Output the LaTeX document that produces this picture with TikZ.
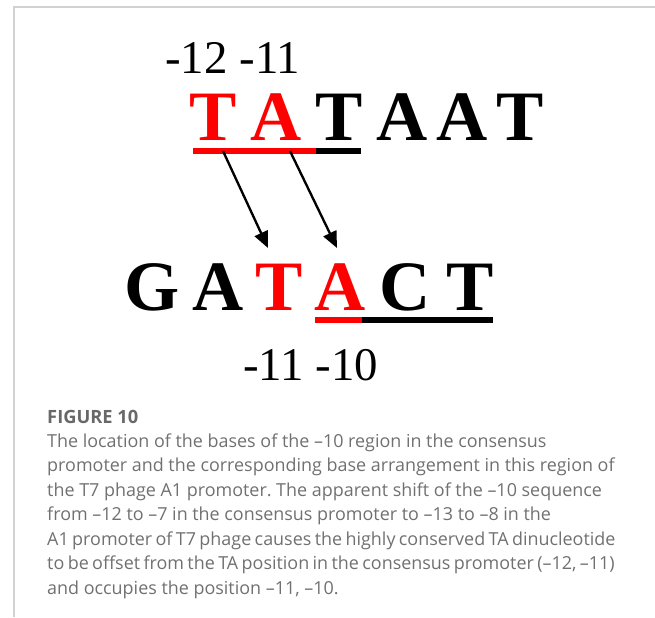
\documentclass[tikz,border=0pt]{standalone}
\usepackage{fontspec}
\usepackage{tikz}
\usetikzlibrary{arrows.meta,positioning}
\newfontfamily\seqfont{Liberation Serif}
\newfontfamily\capfont{Open Sans}
\definecolor{tabox}{HTML}{FF0000}
\definecolor{framegray}{HTML}{D2D2D2}
\definecolor{capgray}{HTML}{707070}
\definecolor{headgray}{HTML}{686868}
\newcommand{\tightline}[1]{{\spaceskip=0.19em\relax #1}}
\frenchspacing

\begin{document}
\begin{tikzpicture}[x=0.03cm, y=-0.03cm,
    letter/.style={inner sep=0pt, anchor=base, font=\seqfont\bfseries\fontsize{60.5}{60.5}\selectfont},
    poslabel/.style={inner sep=0pt, anchor=base west, font=\seqfont\fontsize{40}{40}\selectfont},
    bar/.style={line width=5.6pt},
    shiftarrow/.style={line width=2pt, -{Triangle[length=14pt,width=12pt]}}]
  \useasboundingbox (0,0) rectangle (655,617);
  % frame
  \draw[framegray, line width=1.3pt] (14,617) -- (14,7) -- (655,7);

  % consensus -10 box
  \node[poslabel] (up) at (165,73) {-12 -11};
  \node[letter, tabox] (c1) at (213,140) {T};
  \node[letter, tabox] (c2) at (276,140) {A};
  \node[letter] (c3) at (339,140) {T};
  \node[letter] (c4) at (402,140) {A};
  \node[letter] (c5) at (462,140) {A};
  \node[letter] (c6) at (520,140) {T};
  \draw[bar, tabox] (193,151) -- (316,151);
  \draw[bar] (316,151) -- (361,151);

  % T7 A1 promoter
  \node[letter] (g1) at (152,310) {G};
  \node[letter] (g2) at (218,310) {A};
  \node[letter, tabox] (g3) at (279,310) {T};
  \node[letter, tabox] (g4) at (340,310) {A};
  \node[letter] (g5) at (405,310) {C};
  \node[letter] (g6) at (470,310) {T};
  \draw[bar, tabox] (315,320) -- (362,320);
  \draw[bar] (362,320) -- (493,320);
  \node[poslabel] (down) at (243,380) {-11 -10};

  % shift of TA
  \coordinate (s1) at (223,151);
  \coordinate (s2) at (290,151);
  \coordinate (e1) at (268,248);
  \coordinate (e2) at (337,248);
  \draw[shiftarrow] (s1) -- (e1);
  \draw[shiftarrow] (s2) -- (e2);

  % caption
  \node[inner sep=0pt, anchor=base west, text=headgray, font=\capfont\bfseries\fontsize{15.6}{21}\selectfont] (fig) at (47,423) {FIGURE 10};
  \node[below=8.8pt of fig.base west, anchor=north west, inner sep=0pt, align=left, text=capgray, font=\capfont\fontsize{15.3}{20.9}\selectfont] (cap) {The location of the bases of the –10 region in the consensus\\
promoter and the corresponding base arrangement in this region of\\
the T7 phage A1 promoter. The apparent shift of the –10 sequence\\
from –12 to –7 in the consensus promoter to –13 to –8 in the\\
\tightline{A1 promoter of T7 phage causes the highly conserved TA dinucleotide}\\
\tightline{to be offset from the TA position in the consensus promoter (–12, –11)}\\
and occupies the position –11, –10.};
\end{tikzpicture}
\end{document}
